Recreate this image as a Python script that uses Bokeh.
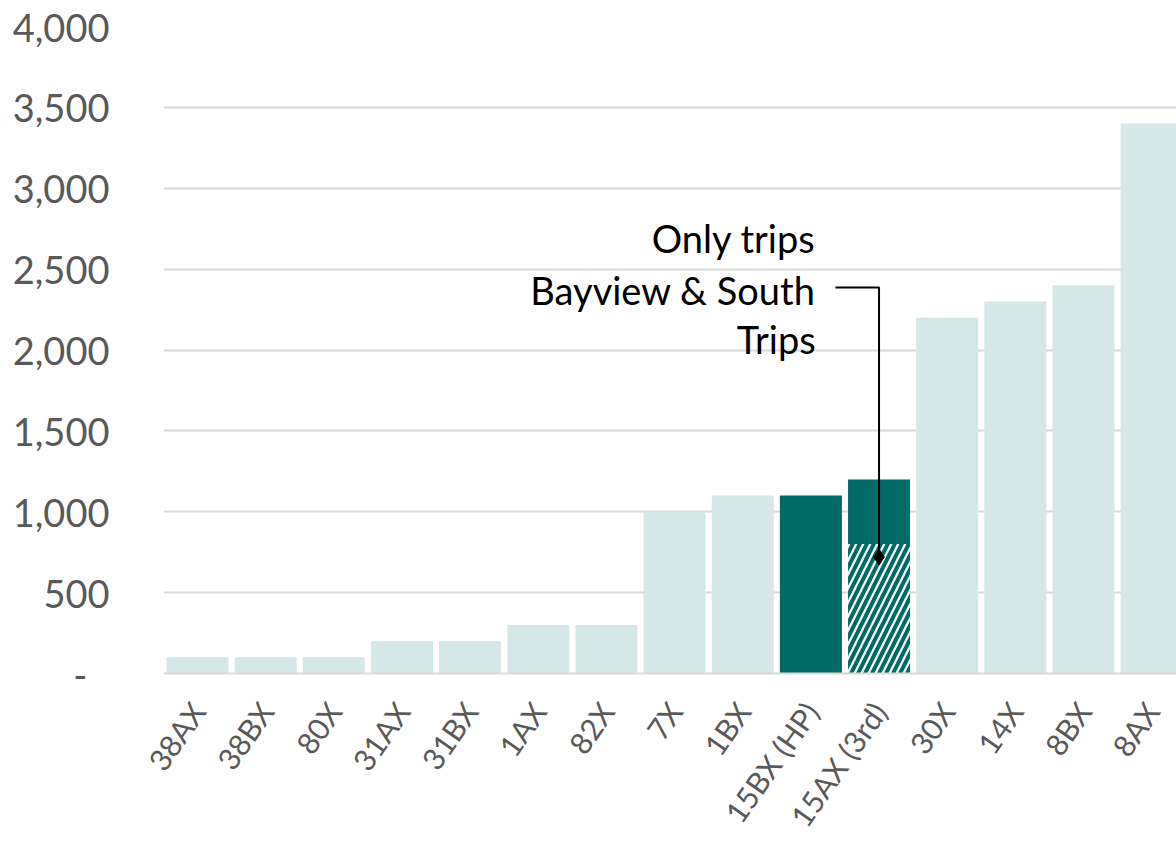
import math
from bokeh.plotting import figure
from bokeh.models import ColumnDataSource, FixedTicker, NumeralTickFormatter, Range1d
from bokeh.embed import file_html
from bokeh.resources import INLINE
from bokeh.core.properties import value

# ---- data ----
routes = ["38AX", "38BX", "80X", "31AX", "31BX", "1AX", "82X", "7X", "1BX",
          "15BX (HP)", "15AX (3rd)", "30X", "14X", "8BX", "8AX"]
trips = [100, 100, 100, 200, 200, 300, 300, 1000, 1100, 1100, 1200, 2200, 2300, 2400, 3400]
highlighted = ["15BX (HP)", "15AX (3rd)"]
bayview_only_route = ["15AX (3rd)"]
bayview_only_trips = [800]
y_ticks = [0, 500, 1000, 1500, 2000, 2500, 3000, 3500, 4000]
annotation_lines = ["Only trips", "Bayview & South", "Trips"]

# ---- styles ----
LIGHT = "#d6e7e7"
DARK = "#006b66"
GRID = "#d9d9d9"
LABEL = "#595959"
FONT = "Lato"

xs = list(range(len(routes)))
colors = [DARK if r in highlighted else LIGHT for r in routes]

p = figure(width=1176, height=849, output_backend="svg", toolbar_location=None,
           x_range=Range1d(-0.5, 14.365), y_range=Range1d(0, 4000),
           min_border_left=163, min_border_right=0, min_border_top=26, min_border_bottom=176)
p.outline_line_color = None
p.background_fill_color = "white"
p.border_fill_color = "white"

src = ColumnDataSource(dict(x=xs, top=trips, color=colors))
p.vbar(x="x", top="top", bottom=0, width=0.91, color="color", source=src, line_color=None)

# hatched portion (Bayview & South only trips)
hx = [routes.index(r) for r in bayview_only_route]
p.vbar(x=hx, top=bayview_only_trips, bottom=0, width=0.91, fill_color="white", line_color=None,
       hatch_pattern="/", hatch_color=DARK, hatch_weight=4, hatch_scale=14)

# annotation
ann_x = 9.07
ann_y = [2695, 2374, 2065]
p.text(x=[ann_x] * 3, y=ann_y, text=annotation_lines, text_align="right", text_baseline="middle",
       text_font=value(FONT), text_font_size="38px", text_color="black")
target = routes.index("15AX (3rd)")
p.line(x=[9.36, target, target], y=[2386, 2386, 720], line_color="black", line_width=2)
p.scatter(x=[target], y=[720], marker="diamond", size=16, color="black")

# axes
p.xaxis.ticker = FixedTicker(ticks=xs)
p.xaxis.major_label_overrides = {i: r for i, r in enumerate(routes)}
p.xaxis.major_label_orientation = 0.96
p.xaxis.major_label_text_font = FONT
p.xaxis.major_label_text_font_size = "30px"
p.xaxis.major_label_text_color = LABEL
p.xaxis.major_tick_line_color = None
p.xaxis.minor_tick_line_color = None
p.xaxis.axis_line_color = GRID
p.xaxis.axis_line_width = 2
p.xaxis.major_label_standoff = 26
p.xgrid.grid_line_color = None

p.yaxis.ticker = FixedTicker(ticks=y_ticks)
p.yaxis.formatter = NumeralTickFormatter(format="0,0")
p.yaxis.major_label_overrides = {0: "-\u2007"}
p.yaxis.major_label_text_font = FONT
p.yaxis.major_label_text_font_size = "38px"
p.yaxis.major_label_text_color = LABEL
p.yaxis.major_tick_line_color = None
p.yaxis.minor_tick_line_color = None
p.yaxis.axis_line_color = None
p.yaxis.major_label_standoff = 48
p.ygrid.grid_line_color = GRID
p.ygrid.grid_line_width = 2
p.ygrid.level = "underlay"

open("out.html", "w").write(file_html(p, INLINE))
